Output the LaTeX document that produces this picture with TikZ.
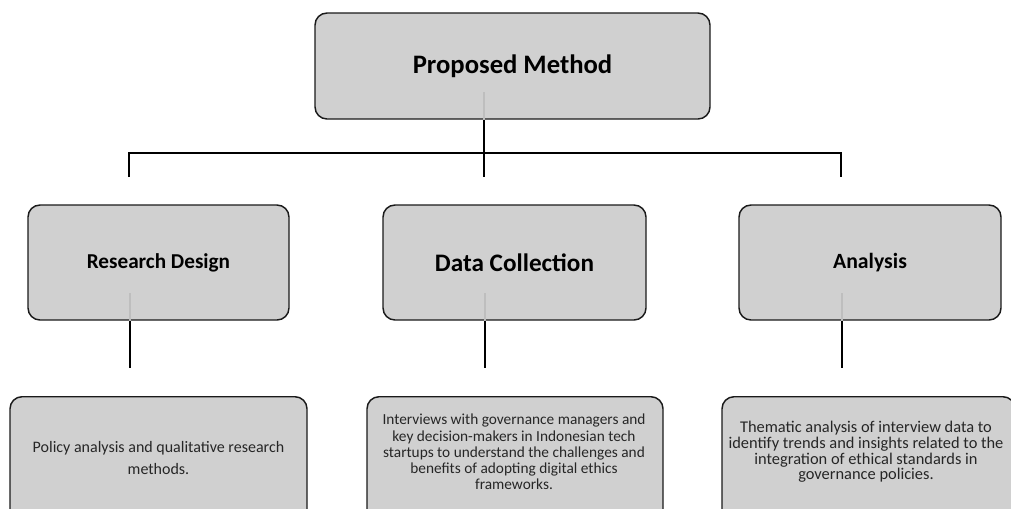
\documentclass[tikz,border=0pt]{standalone}
\usepackage{fontspec}
\setmainfont{Carlito}
\definecolor{Cboxgray}{HTML}{D0D0D0}
\definecolor{Cedge}{HTML}{1A1A1A}
\definecolor{Cstub}{HTML}{BEBEBE}
\begin{document}
\begin{tikzpicture}[x=0.75pt,y=-0.75pt,
		headbox/.style={draw=Cedge,fill=Cboxgray,line width=1.1pt,rounded corners=9pt,inner sep=0pt},
		descbox/.style={draw=Cedge,fill=Cboxgray,line width=1.1pt,rounded corners=9pt,inner sep=0pt,anchor=north},
		desctext/.style={align=center,text=black!85},
		stub/.style={Cstub,line width=1.1pt},
		bus/.style={black,line width=2.2pt}]
	\useasboundingbox (0,0) rectangle (1011,508);
	\clip (0,0) rectangle (1011,508);
	% top box and bus
	\node[headbox,minimum width=296.25pt,minimum height=79.5pt,
		font=\bfseries\fontsize{20}{24}\selectfont] (method) at (512.5,66) {Proposed Method};
	\coordinate (methodstub) at (484,92);
	\coordinate (methodend) at (484,177);
	\coordinate (busL) at (129,153);
	\coordinate (busR) at (841,153);
	\coordinate (dropL) at (129,177);
	\coordinate (dropR) at (841,177);
	\draw[stub] (methodstub) -- (methodstub |- method.south);
	\draw[bus] (methodstub |- method.south) -- (methodend);
	\draw[bus] (dropL) -- (busL) -- (busR) -- (dropR);
	% second row
	\foreach \n/\x/\w/\s/\t in {design/158.5/195.75/15.9/Research Design,
			collect/514.5/197.25/18.9/Data Collection,analysis/870/196.5/16.3/Analysis}{
		\node[headbox,minimum width=\w pt,minimum height=86.25pt,
			font=\bfseries\fontsize{\s}{\s}\selectfont] (\n) at (\x,262.5) {\t};}
	\foreach \n/\x in {design/130,collect/485,analysis/842}{
		\coordinate (\n stub) at (\x,293);
		\coordinate (\n end) at (\x,368);
		\draw[stub] (\n stub) -- (\n stub |- \n.south);
		\draw[bus,line width=1.9pt] (\n stub |- \n.south) -- (\n end);}
	% description boxes
	\node[descbox,minimum width=222.75pt,minimum height=112.5pt] (designbox) at (158.5,396) {};
	\node[descbox,minimum width=222pt,minimum height=112.5pt] (collectbox) at (515,396) {};
	\node[descbox,minimum width=219.75pt,minimum height=112.5pt] (analysisbox) at (868.5,396) {};
	\node[desctext,font=\fontsize{12}{16.5}\selectfont] (designtxt) at (158.5,458)
		{Policy analysis and qualitative research\\methods.};
	\node[desctext,font=\fontsize{11.5}{12.2}\selectfont] (collecttxt) at (514,452)
		{Interviews with governance managers and\\key decision-makers in Indonesian tech\\startups to understand the challenges and\\benefits of adopting digital ethics\\frameworks.};
	\node[desctext,font=\fontsize{12.3}{11.8}\selectfont] (analysistxt) at (866,452)
		{Thematic analysis of interview data to\\identify trends and insights related to the\\integration of ethical standards in\\governance policies.};
\end{tikzpicture}
\end{document}
